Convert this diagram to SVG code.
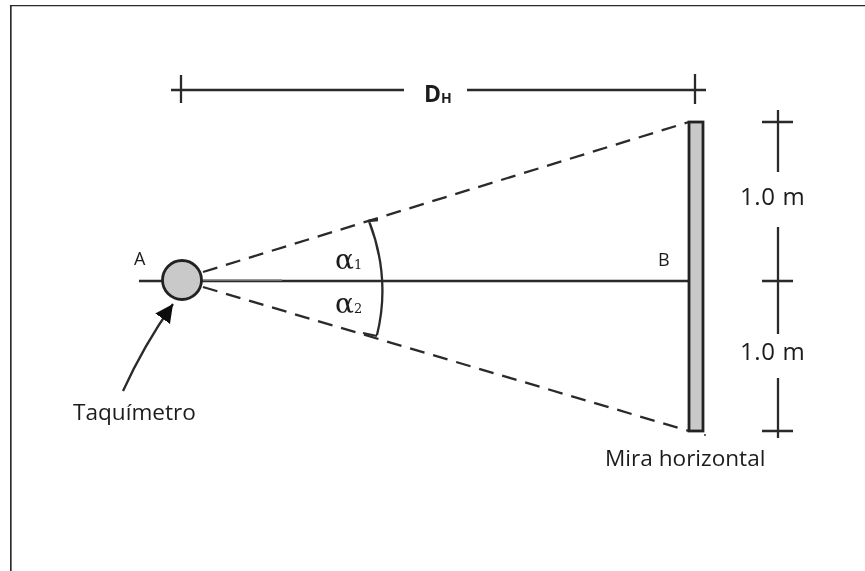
<svg xmlns="http://www.w3.org/2000/svg" width="865" height="571" viewBox="0 0 865 571">
<defs>
<style>
text{font-family:"Open Sans","Noto Sans","Liberation Sans",sans-serif;fill:#1c1c1c}
.t{font-size:22.600px}
.m{font-size:24px;letter-spacing:.6px}
.s{font-size:18px}
text.a{font-family:"DejaVu Serif",serif;font-size:28px;font-weight:500}
.sub{font-size:13px}
.l{stroke:#2a2a2a;stroke-width:2.300;fill:none}
.d{stroke:#2a2a2a;stroke-width:2.300;fill:none;stroke-dasharray:15 9}
.g{fill:#c9c9c9;stroke:#222;stroke-width:2.800}
</style>
<marker id="ah" markerUnits="userSpaceOnUse" markerWidth="20" markerHeight="20" refX="18" refY="9" orient="auto"><path d="M0 0L18 9L0 18Z" fill="#111"/></marker>
<filter id="soft" x="0" y="0" width="100%" height="100%"><feGaussianBlur stdDeviation="0.4"/></filter>
</defs>
<rect width="865" height="571" fill="#fff"/>
<g filter="url(#soft)">
<g id="frame"><path class="l" stroke-width="2.800" d="M10.500 575V5H870"/></g>
<g id="connectors">
<path class="l" d="M171 90H404M467 90H706M181 75V103M695 74V104"/>
<path class="l" d="M139 281H689"/>
<path stroke="#888" stroke-width="1.500" fill="none" d="M203 280H282"/>
<path class="d" d="M203 272L689 122"/>
<path class="d" d="M203 287L689 431"/>
<path class="l" d="M369 221Q391 278 377 335M368 221L378 220M363 333L377 336"/>
<path class="l" d="M762 122H793M778 110V172M778 227V334M762 281H793M762 431H793M778 378V438"/>
<path class="l" d="M123 391Q144 345 173 304" marker-end="url(#ah)"/>
<circle cx="705" cy="435" r="1" fill="#333"/>
</g>
<g id="taquimetro"><circle class="g" cx="182" cy="280" r="19.500"/><text class="t" x="73" y="420">Taquímetro</text></g>
<g id="mira"><rect class="g" x="689" y="122" width="14" height="309"/><text class="t" x="605" y="466">Mira horizontal</text></g>
<g id="labels">
<text class="s" x="134" y="265">A</text>
<text class="s" x="658" y="266">B</text>
<text x="424" y="102" font-size="23" font-weight="700">D<tspan font-size="14" font-weight="700" dy="1">H</tspan></text>
<text class="m" x="740" y="205">1.0 m</text>
<text class="m" x="740" y="360">1.0 m</text>
<text class="a" x="335" y="269">α<tspan class="sub">1</tspan></text>
<text class="a" x="335" y="313">α<tspan class="sub">2</tspan></text>
</g>
</g>
</svg>
